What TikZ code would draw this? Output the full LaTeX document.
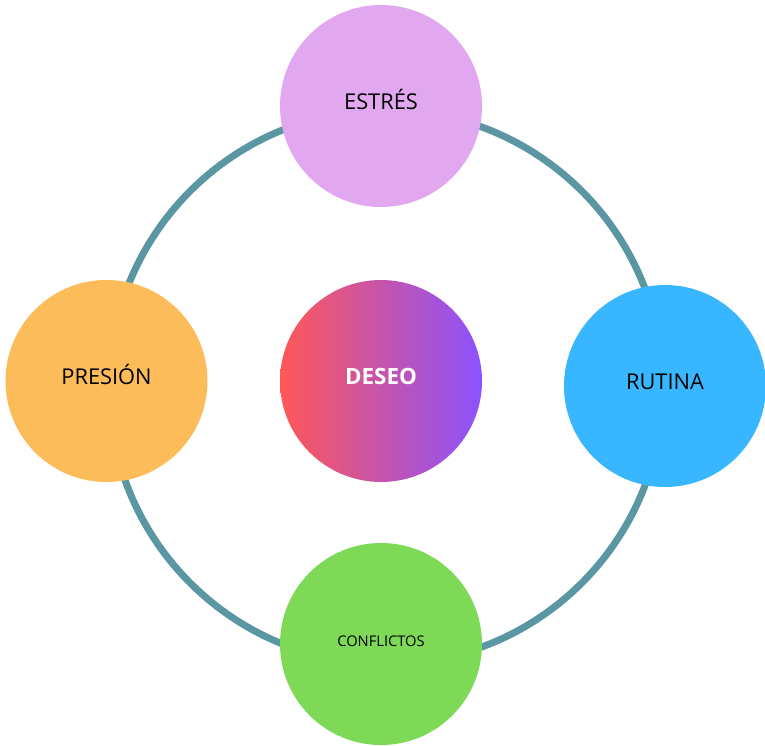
\documentclass[tikz,border=0pt]{standalone}
\usepackage{fontspec}
\setmainfont{Open Sans}
\definecolor{ringc}{HTML}{5B97A3}
\definecolor{cpink}{HTML}{E1A8F0}
\definecolor{corange}{HTML}{FDBC5A}
\definecolor{cblue}{HTML}{38B6FF}
\definecolor{cgreen}{HTML}{7ED957}
\definecolor{cred}{HTML}{FF5757}
\definecolor{cpurple}{HTML}{8C52FF}
\begin{document}
\begin{tikzpicture}[x=1pt,y=-1pt,
  bub/.style={circle, minimum size=202pt, inner sep=0pt, text=black, text height=15.5pt, text depth=8.5pt, font=\fontsize{21.8}{26}\selectfont},
  ring/.style={draw=ringc, line width=7pt}]
\useasboundingbox (0,0) rectangle (765,746);
\coordinate (rc) at (386,387);
\draw[ring] (rc) circle (277);
\node[bub, fill=cpink] (estres) at (381,106) {ESTRÉS};
\node[bub, fill=corange] (presion) at (106.5,381) {PRESIÓN};
\node[bub, fill=cblue] (rutina) at (665,386) {RUTINA};
\node[bub, fill=cgreen, font=\fontsize{14.7}{17}\selectfont, text height=10.5pt, text depth=6pt] (conf) at (381,644) {CONFLICTOS};
\node[bub, left color=cred, right color=cpurple, text=white, font=\bfseries\fontsize{22.4}{26}\selectfont] (deseo) at (381,381) {DESEO};
\end{tikzpicture}
\end{document}
